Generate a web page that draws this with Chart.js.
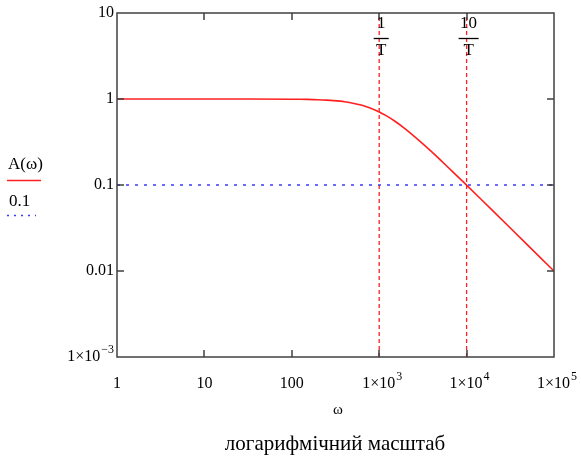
<!DOCTYPE html>
<html>
<head>
<meta charset="utf-8">
<script src="https://cdn.jsdelivr.net/npm/chart.js@4/dist/chart.umd.min.js"></script>
<style>
    html, body { margin: 0; padding: 0; background: #fff; }
    #wrap { width: 581px; height: 462px; position: relative; }
</style>
</head>
<body>
<div id="wrap"><canvas id="chart"></canvas></div>
<script>
// Frequency response data
const omega = [1, 10, 100, 150, 200, 250, 300, 400, 500, 600, 700, 800, 1000, 1200, 1500, 2000, 3000, 4000, 5000, 7000, 10000, 20000, 50000, 100000];
const amplitude = [1, 1, 0.995, 0.99, 0.98, 0.97, 0.958, 0.93, 0.894, 0.857, 0.82, 0.78, 0.707, 0.64, 0.555, 0.447, 0.316, 0.243, 0.196, 0.141, 0.0995, 0.05, 0.02, 0.01];

const refLevel = 0.1;
const markerOmega = [1000, 10000];
const markerNumerators = ['1', '10'];
const markerDenominator = 'T';

const xTickValues = [1, 10, 100, 1000, 10000, 100000];
const xTickLabels = [['1', ''], ['10', ''], ['100', ''], ['1×10', '3'], ['1×10', '4'], ['1×10', '5']];
const yTickValues = [10, 1, 0.1, 0.01, 0.001];
const yTickLabels = [['10', ''], ['1', ''], ['0.1', ''], ['0.01', ''], ['1×10', '−3']];

const xMin = 1, xMax = 100000, yMin = 0.001, yMax = 10;

const SERIF = '"Liberation Serif", "DejaVu Serif", serif';
const FRAME = '#404040';
const RED = '#ff2020';
const BLUE = '#3a3aff';

// text with optional superscript
function drawSup(ctx, base, exp, x, y, align, size) {
    ctx.font = size + 'px ' + SERIF;
    const wb = ctx.measureText(base).width;
    ctx.font = Math.round(size * 0.72) + 'px ' + SERIF;
    const we = exp ? ctx.measureText(exp).width + 1 : 0;
    const total = wb + we;
    let x0 = x;
    if (align === 'center') x0 = x - total / 2;
    if (align === 'right') x0 = x - total;
    ctx.textAlign = 'left';
    ctx.textBaseline = 'middle';
    ctx.font = size + 'px ' + SERIF;
    ctx.fillText(base, x0, y);
    if (exp) {
        ctx.font = Math.round(size * 0.72) + 'px ' + SERIF;
        ctx.fillText(exp, x0 + wb + 1, y - size * 0.42);
    }
}

const mathcadFrame = {
    id: 'mathcadFrame',
    afterDatasetsDraw(chart) {
        const ctx = chart.ctx;
        const a = chart.chartArea;
        const xs = chart.scales.x, ys = chart.scales.y;
        ctx.save();

        // frame
        ctx.strokeStyle = FRAME;
        ctx.lineWidth = 1.5;
        ctx.strokeRect(a.left, a.top, a.right - a.left, a.bottom - a.top);

        // inward ticks on all sides
        xTickValues.slice(1, -1).forEach(v => {
            const px = Math.round(xs.getPixelForValue(v));
            ctx.beginPath();
            ctx.moveTo(px, a.bottom); ctx.lineTo(px, a.bottom - 7);
            ctx.moveTo(px, a.top); ctx.lineTo(px, a.top + 7);
            ctx.stroke();
        });
        yTickValues.slice(1, -1).forEach(v => {
            const py = Math.round(ys.getPixelForValue(v));
            ctx.beginPath();
            ctx.moveTo(a.left, py); ctx.lineTo(a.left + 7, py);
            ctx.moveTo(a.right, py); ctx.lineTo(a.right - 7, py);
            ctx.stroke();
        });

        // tick labels
        ctx.fillStyle = '#000';
        xTickValues.forEach((v, i) => {
            const px = xs.getPixelForValue(v);
            drawSup(ctx, xTickLabels[i][0], xTickLabels[i][1], px + (xTickLabels[i][1] ? 3 : 0), a.bottom + 27, 'center', 16);
        });
        yTickValues.forEach((v, i) => {
            const py = ys.getPixelForValue(v);
            drawSup(ctx, yTickLabels[i][0], yTickLabels[i][1], a.left - 3, py, 'right', 16);
        });

        // 1/T and 10/T labels
        markerOmega.forEach((v, i) => {
            const px = xs.getPixelForValue(v);
            ctx.fillStyle = '#000';
            ctx.font = '17px ' + SERIF;
            ctx.textAlign = 'center';
            ctx.textBaseline = 'middle';
            ctx.fillText(markerNumerators[i], px + 2, a.top + 11);
            ctx.fillText(markerDenominator, px + 2, a.top + 38);
            const half = markerNumerators[i].length > 1 ? 10 : 7.5;
            ctx.strokeStyle = '#000';
            ctx.lineWidth = 1.3;
            ctx.beginPath();
            ctx.moveTo(px + 2 - half, a.top + 25.5); ctx.lineTo(px + 2 + half, a.top + 25.5);
            ctx.stroke();
        });

        // legend on the left
        ctx.fillStyle = '#000';
        ctx.font = '17px ' + SERIF;
        ctx.textAlign = 'left';
        ctx.textBaseline = 'middle';
        ctx.fillText('A(ω)', 8, 165);
        ctx.strokeStyle = RED;
        ctx.lineWidth = 1.5;
        ctx.setLineDash([]);
        ctx.beginPath(); ctx.moveTo(7, 180.5); ctx.lineTo(41, 180.5); ctx.stroke();
        ctx.fillText('0.1', 9, 202);
        ctx.strokeStyle = BLUE;
        ctx.setLineDash([2, 5]);
        ctx.beginPath(); ctx.moveTo(7, 215.5); ctx.lineTo(36, 215.5); ctx.stroke();
        ctx.setLineDash([]);

        // axis name and caption
        ctx.textAlign = 'center';
        ctx.font = '15px ' + SERIF;
        ctx.fillText('ω', 338, 410);
        ctx.font = '21px ' + SERIF;
        ctx.fillText('логарифмічний масштаб', 335, 444);

        ctx.restore();
    }
};

const datasets = [
    {
        label: 'A(ω)',
        data: omega.map((w, i) => ({ x: w, y: amplitude[i] })),
        borderColor: RED,
        borderWidth: 1.6,
        showLine: true,
        pointRadius: 0,
        tension: 0.3
    },
    {
        label: '0.1',
        data: [{ x: xMin, y: refLevel }, { x: xMax, y: refLevel }],
        borderColor: BLUE,
        borderWidth: 1.6,
        borderDash: [3, 6],
        showLine: true,
        pointRadius: 0
    }
];
markerOmega.forEach(w => {
    datasets.push({
        data: [{ x: w, y: yMin }, { x: w, y: yMax }],
        borderColor: RED,
        borderWidth: 1.3,
        borderDash: [4, 3],
        showLine: true,
        pointRadius: 0
    });
});

new Chart(document.getElementById('chart'), {
    type: 'scatter',
    data: { datasets: datasets },
    options: {
        responsive: true,
        maintainAspectRatio: false,
        animation: false,
        layout: { padding: { left: 117, right: 27, top: 13, bottom: 105 } },
        plugins: {
            legend: { display: false },
            tooltip: { enabled: false }
        },
        scales: {
            x: {
                type: 'logarithmic',
                display: false,
                min: xMin,
                max: xMax
            },
            y: {
                type: 'logarithmic',
                display: false,
                min: yMin,
                max: yMax
            }
        }
    },
    plugins: [mathcadFrame]
});
</script>
</body>
</html>
